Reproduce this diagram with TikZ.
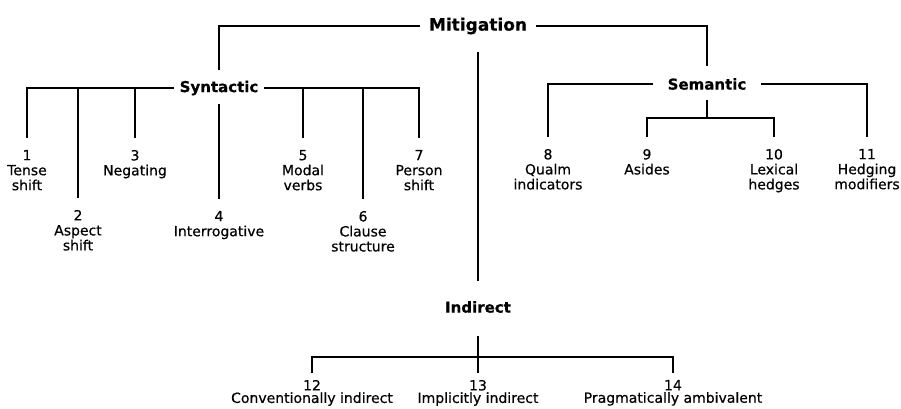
\documentclass[tikz,border=0pt]{standalone}
\usepackage{fontspec}
\setmainfont[FakeBold=0.5]{DejaVu Sans}
\begin{document}
\begin{tikzpicture}[x=1pt,y=-1pt,line width=1.4pt,
  head/.style={font=\fontsize{15}{17}\selectfont\bfseries,inner ysep=2pt},
  leaf/.style={font=\fontsize{14}{15}\selectfont,align=center,anchor=north,inner sep=0pt,outer sep=12pt},
  bot/.style={font=\fontsize{14}{12.5}\selectfont,align=center,anchor=north,inner sep=0pt,outer sep=7pt}]
\useasboundingbox (0,0) rectangle (901,408);
% heads
\node[head,font=\fontsize{17}{19}\selectfont\bfseries,inner xsep=8pt] (mit) at (478,26) {Mitigation};
\node[head,inner xsep=5pt] (syn) at (219,88) {Syntactic};
\node[head,inner xsep=14pt] (sem) at (707,84) {Semantic};
\node[head] (ind) at (478,307) {Indirect};
% coordinates
\coordinate (msyn) at (219,70);
\coordinate (msem) at (707,66);
\coordinate (mc) at (478,52);
\coordinate (s4) at (219,104);
\coordinate (sm) at (707,100);
\coordinate (sj) at (707,118);
\coordinate (ib) at (478,336);
\coordinate (ij) at (478,357);
% syntactic leaves
\node[leaf] (l1) at (27,138) {1\\Tense\\shift};
\node[leaf] (l2) at (78,198) {2\\Aspect\\shift};
\node[leaf] (l3) at (135,138) {3\\Negating};
\node[leaf] (l4) at (219,199) {4\\Interrogative};
\node[leaf] (l5) at (303,138) {5\\Modal\\verbs};
\node[leaf] (l6) at (363,199) {6\\Clause\\structure};
\node[leaf] (l7) at (419,138) {7\\Person\\shift};
% semantic leaves
\node[leaf] (l8) at (548,137) {8\\Qualm\\indicators};
\node[leaf] (l9) at (647,137) {9\\Asides};
\node[leaf] (l10) at (774,137) {10\\Lexical\\hedges};
\node[leaf] (l11) at (867,137) {11\\Hedging\\modifiers};
% indirect leaves
\node[bot] (l12) at (312,373) {12\\Conventionally indirect};
\node[bot] (l13) at (478,373) {13\\Implicitly indirect};
\node[bot] (l14) at (673,373) {14\\Pragmatically ambivalent};
% connectors
\draw (mit.west) -| (msyn);
\draw (mit.east) -| (msem);
\draw[shorten >=18pt] (mc) -- (ind.north);
\draw (syn.west) -| (l1.north);
\draw (syn.west) -| (l2.north);
\draw (syn.west) -| (l3.north);
\draw (s4) -- (l4.north);
\draw (syn.east) -| (l5.north);
\draw (syn.east) -| (l6.north);
\draw (syn.east) -| (l7.north);
\draw (sem.west) -| (l8.north);
\draw (sem.east) -| (l11.north);
\draw (sm) -- (sj);
\draw (l9.north) |- (sj) -| (l10.north);
\draw (ib) -- (l13.north);
\draw (l12.north) |- (ij) -| (l14.north);
\end{tikzpicture}
\end{document}
